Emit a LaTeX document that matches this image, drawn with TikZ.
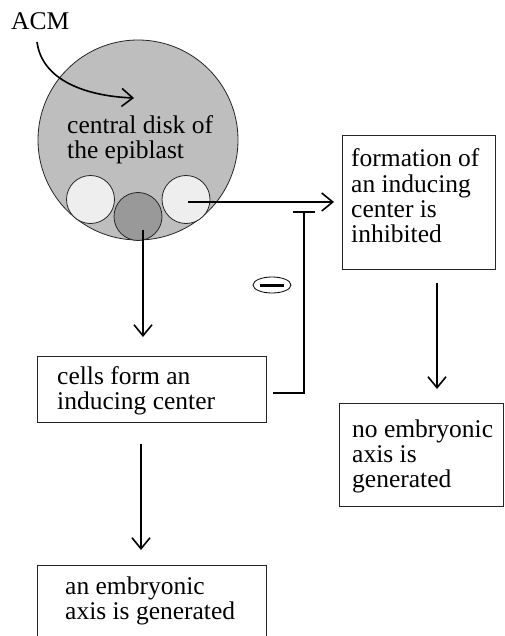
\documentclass[tikz,border=0pt]{standalone}
\usepackage{fontspec}
\setmainfont{Liberation Serif}
\usetikzlibrary{arrows.meta,shapes.geometric}
\definecolor{diskgray}{RGB}{190,190,190}
\definecolor{lightcell}{RGB}{238,238,238}
\definecolor{darkcell}{RGB}{153,153,153}
\begin{document}
\begin{tikzpicture}[x=1pt,y=-1pt,
  conn/.style={line width=1.6pt,-{Straight Barb[length=11pt,width=18pt]}},
  plainline/.style={line width=1.6pt},
  box/.style={draw=black!85,line width=0.9pt,fill=white,inner sep=0pt,anchor=north west},
  txt/.style={font=\fontsize{25.5}{25}\selectfont,align=left,inner sep=0pt,anchor=base west},
  cell/.style={circle,draw=black!85,line width=0.8pt,inner sep=0pt,minimum size=48pt}
]
\useasboundingbox (0,0) rectangle (504,636);
\clip (0,0) rectangle (504,636);
\fill[white] (0,0) rectangle (504,636);

% disk and cells
\node[circle,draw=black!85,line width=0.8pt,fill=diskgray,inner sep=0pt,minimum size=200pt] (disk) at (138,140) {};
\node[cell,fill=lightcell] (cl) at (90.5,199.5) {};
\node[cell,fill=lightcell] (cr) at (186,199.5) {};
\node[cell,fill=darkcell] (cd) at (138,216.5) {};
\node[txt] (disktxt) at (67,158.5) {central disk of\\the epiblast};

% ACM
\node[txt] (acm) at (11,30) {ACM};
\coordinate (acmstart) at (37,42);
\coordinate (acmend) at (134,98);
\draw[conn] (acmstart) .. controls (42,80) and (85,96) .. (acmend);

% boxes
\node[box,minimum width=229pt,minimum height=66pt] (b1) at (37,356) {};
\node[txt] (t1) at (57,409) {cells form an\\inducing center};
\node[box,minimum width=229pt,minimum height=90pt] (b2) at (37,565) {};
\node[txt] (t2) at (65,619) {an embryonic\\axis is generated};
\node[box,minimum width=153pt,minimum height=134pt] (b3) at (342,135) {};
\node[txt] (t3) at (351,242) {formation of\\an inducing\\center is\\inhibited};
\node[box,minimum width=164pt,minimum height=103pt] (b4) at (339,403) {};
\node[txt] (t4) at (352,487) {no embryonic\\axis is\\generated};

% connectors
\coordinate (d1s) at (143,230);
\coordinate (d1e) at (143,337);
\draw[conn] (d1s) -- (d1e);
\coordinate (d2s) at (141,444);
\coordinate (d2e) at (141,550);
\draw[conn] (d2s) -- (d2e);
\coordinate (hs) at (188,202);
\coordinate (he) at (334,202);
\draw[conn] (hs) -- (he);
\coordinate (d3s) at (437,283);
\coordinate (d3e) at (437,389);
\draw[conn] (d3s) -- (d3e);

% inhibition
\coordinate (is) at (273,393);
\coordinate (ic) at (304,393);
\coordinate (it) at (304,212);
\draw[plainline] (is) -- (ic) -- (it);
\coordinate (ibl) at (293,212);
\coordinate (ibr) at (315,212);
\draw[plainline] (ibl) -- (ibr);

% minus sign
\node[ellipse,draw=black,line width=0.8pt,minimum width=38pt,minimum height=16pt,inner sep=0pt] (minus) at (272,285) {};
\coordinate (ml) at (260,285);
\coordinate (mr) at (284,285);
\draw[line width=3pt] (ml) -- (mr);
\end{tikzpicture}
\end{document}
